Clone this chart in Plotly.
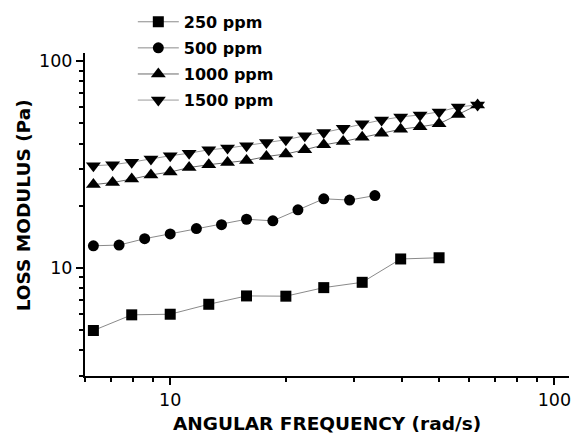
import plotly.graph_objects as go

# Angular frequency (rad/s) sampled for each concentration
freq_250 = [6.31, 7.94, 10.0, 12.6, 15.8, 20.0, 25.1, 31.6, 39.8, 50.1]
freq_500 = [6.31, 7.36, 8.58, 10.0, 11.7, 13.6, 15.8, 18.5, 21.5, 25.1, 29.3, 34.1]
freq_hi = [6.31, 7.08, 7.94, 8.91, 10.0, 11.2, 12.6, 14.1, 15.8, 17.8, 20.0,
           22.4, 25.1, 28.2, 31.6, 35.5, 39.8, 44.7, 50.1, 56.2, 63.1]

# Loss modulus (Pa)
loss_250 = [4.98, 5.93, 5.97, 6.67, 7.32, 7.30, 8.03, 8.52, 11.05, 11.2]
loss_500 = [12.8, 12.9, 13.85, 14.6, 15.5, 16.2, 17.2, 16.9, 19.1, 21.6, 21.3, 22.4]
loss_1000 = [25.3, 25.9, 26.9, 28.2, 29.1, 30.6, 31.6, 32.4, 33.1, 34.6, 35.6,
             37.3, 39.4, 40.9, 42.9, 44.9, 46.9, 48.2, 49.8, 55.3, 61.5]
loss_1500 = [31.2, 31.6, 32.5, 33.7, 34.9, 35.9, 37.3, 38.0, 39.0, 40.4, 41.7,
             43.6, 45.2, 47.4, 49.8, 52.0, 53.8, 55.0, 56.9, 60.1, 61.5]

series_names = ["250 ppm", "500 ppm", "1000 ppm", "1500 ppm"]

x_major = [10, 100]
x_minor = [6, 7, 8, 9, 20, 30, 40, 50, 60, 70, 80, 90]
y_major = [10, 100]
y_minor = [3, 4, 5, 6, 7, 8, 9, 20, 30, 40, 50, 60, 70, 80, 90]

FONT = "DejaVu Sans"

series = [
    (freq_250, loss_250, "square", 11, "#8a8a8a"),
    (freq_500, loss_500, "circle", 11, "#8a8a8a"),
    (freq_hi, loss_1000, "triangle-up", 13, "#6a6a6a"),
    (freq_hi, loss_1500, "triangle-down", 13, "#9a9a9a"),
]

fig = go.Figure()
for name, (xs, ys, sym, size, lc) in zip(series_names, series):
    fig.add_trace(go.Scatter(
        x=xs, y=ys, name=name, legendgroup=name,
        mode="lines+markers",
        line=dict(color=lc, width=1),
        marker=dict(symbol=sym, size=size, color="black", line=dict(width=0)),
    ))

axis_common = dict(
    type="log",
    showline=True, linewidth=2, linecolor="black", mirror=False,
    showgrid=False, zeroline=False,
    ticks="outside", ticklen=7, tickwidth=1.5, tickcolor="black",
    tickmode="array",
    tickfont=dict(family=FONT, size=17.5, color="black"),
)

fig.update_xaxes(
    **axis_common,
    range=[0.7782, 2.038],
    tickvals=x_major, ticktext=[str(v) for v in x_major],
    minor=dict(tickmode="array", tickvals=x_minor, ticks="outside",
               ticklen=4, tickwidth=1.5, tickcolor="black", showgrid=False),
)
fig.update_yaxes(
    **axis_common,
    range=[0.4771, 2.04],
    tickvals=y_major, ticktext=[str(v) for v in y_major],
    minor=dict(tickmode="array", tickvals=y_minor, ticks="outside",
               ticklen=4, tickwidth=1.5, tickcolor="black", showgrid=False),
)

fig.add_annotation(
    text="ANGULAR FREQUENCY (rad/s)", xref="paper", yref="paper",
    x=0.5, y=-0.148, xanchor="center", yanchor="middle", showarrow=False,
    font=dict(family=FONT, size=18.5, color="black", weight="bold"),
)
fig.add_annotation(
    text="LOSS MODULUS (Pa)", xref="paper", yref="paper", textangle=-90,
    x=-0.1276, y=0.529, xanchor="center", yanchor="middle", showarrow=False,
    font=dict(family=FONT, size=18.5, color="black", weight="bold"),
)

fig.update_layout(
    width=576, height=439,
    margin=dict(l=85, r=5, t=52, b=63),
    paper_bgcolor="white", plot_bgcolor="white",
    showlegend=True,
    legend=dict(
        x=0.0988, y=1.149, xanchor="left", yanchor="top",
        traceorder="grouped", tracegroupgap=2.3,
        itemwidth=41, bgcolor="rgba(0,0,0,0)", borderwidth=0,
        font=dict(family=FONT, size=16, color="black", weight="bold"),
    ),
)

fig.write_html("out.html")
